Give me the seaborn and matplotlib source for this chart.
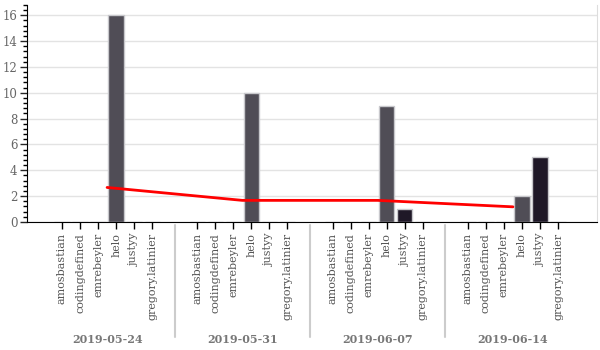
import numpy as np
import pandas as pd
import matplotlib
matplotlib.use("Agg")
import matplotlib.pyplot as plt
import matplotlib.transforms as mtransforms
from matplotlib.ticker import MultipleLocator
import seaborn as sns

sns.set_style("white")
plt.rcParams['font.family'] = ['DejaVu Serif']

## data ##
weeks = ["2019-05-24", "2019-05-31", "2019-06-07", "2019-06-14"]
users = ["amosbastian", "codingdefined", "emrebeyler", "helo", "justyy", "gregory.latinier"]
counts_0524 = [0, 0, 0, 16, 0, 0]
counts_0531 = [0, 0, 0, 10, 0, 0]
counts_0607 = [0, 0, 0, 9, 1, 0]
counts_0614 = [0, 0, 0, 2, 5, 0]
user_colors = ["#7b7583", "#6a6474", "#5d5866", "#4f4c57", "#1f1529", "#3a3344"]

group_step = 7.5

rows = []
for g, (week, counts) in enumerate(zip(weeks, [counts_0524, counts_0531, counts_0607, counts_0614])):
    for i, (user, c) in enumerate(zip(users, counts)):
        rows.append({"week": week, "user": user, "count": c, "pos": g * group_step + i})
df = pd.DataFrame(rows)

avg = df.groupby("week", sort=False)["count"].mean().reset_index()
avg["center"] = [g * group_step + 2.5 for g in range(len(weeks))]

## plot ##
fig = plt.figure(figsize=(6, 3.5), dpi=100)
ax = fig.add_axes([0.045, 0.366, 0.95, 0.62])

sns.barplot(data=df, x="pos", y="count", hue="user", native_scale=True, dodge=False,
            palette=dict(zip(users, user_colors)), width=0.85,
            edgecolor="#c8c8cc", linewidth=1, legend=False, ax=ax, zorder=2)
sns.lineplot(data=avg, x="center", y="count", color="#ff0000", linewidth=2, ax=ax, zorder=3)

ax.set_xlim(-1.94, 29.66)
ax.set_ylim(0, 16.8)
ax.yaxis.set_major_locator(MultipleLocator(2))
ax.yaxis.set_minor_locator(MultipleLocator(0.4))
ax.grid(axis="y", which="major", color="#e3e3e3", linewidth=1, zorder=0)
ax.set_axisbelow(True)

ax.set_xticks(df["pos"], df["user"], rotation=90, fontsize=8, color="#555555")
ax.tick_params(axis="x", bottom=True, direction="out", length=5, width=1, color="black", pad=3)
ax.tick_params(axis="y", which="major", left=True, direction="out", length=5, width=1,
               labelsize=8.5, labelcolor="#666666", pad=2)
ax.tick_params(axis="y", which="minor", left=True, direction="out", length=3, width=1,
               color="black")
ax.set_xlabel("")
ax.set_ylabel("")

sns.despine(ax=ax, top=True, right=False)
ax.spines["right"].set_color("#dddddd")
ax.spines["left"].set_color("black")
ax.spines["bottom"].set_color("black")

trans = mtransforms.blended_transform_factory(ax.transData, ax.transAxes)
for g, week in enumerate(weeks):
    ax.text(g * group_step + 2.5, -0.54, week, transform=trans, ha="center", va="center",
            fontsize=8, fontweight="bold", color="#777777")
    if g > 0:
        sep = g * group_step - 1.25
        ax.plot([sep, sep], [-0.014, -0.53], transform=trans, color="#cccccc",
                linewidth=1.5, clip_on=False)

plt.savefig("out.png", dpi=100)
